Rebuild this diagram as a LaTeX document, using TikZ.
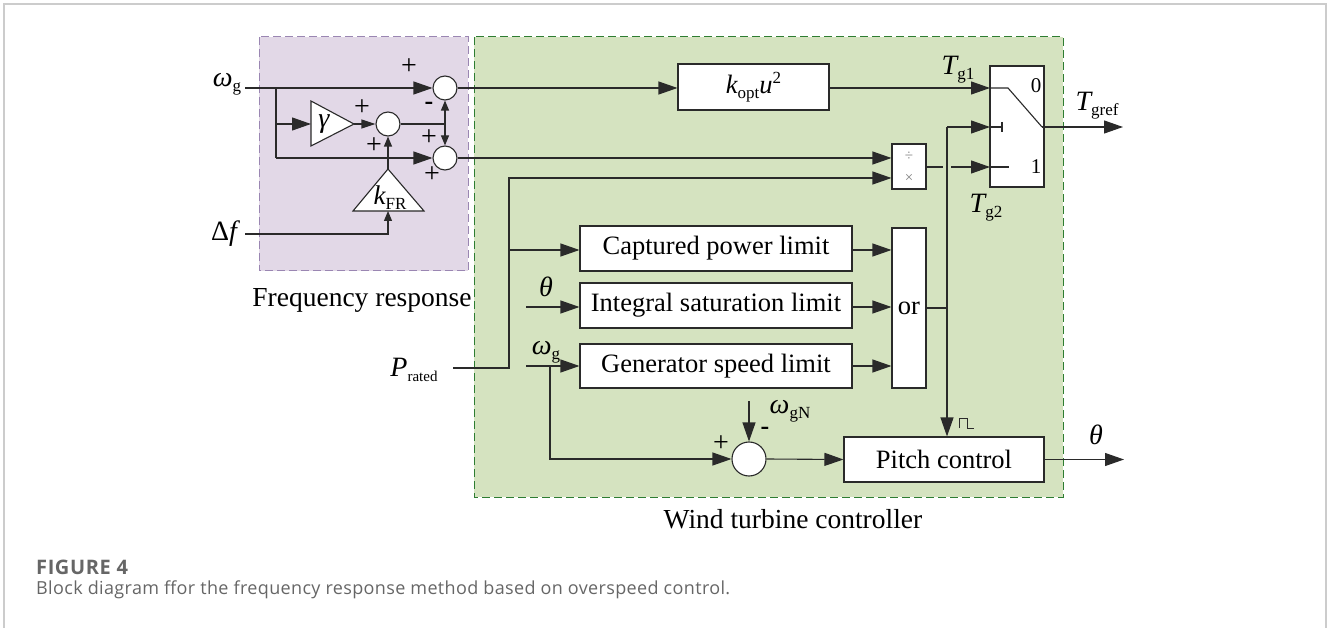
\documentclass[tikz,border=0pt]{standalone}
\usepackage{fontspec}
\setmainfont{Liberation Serif}
\newfontfamily\capfont{Open Sans}
\usetikzlibrary{arrows.meta,calc}
\definecolor{purpfill}{HTML}{E2D8E7}
\definecolor{purpedge}{HTML}{9A86B2}
\definecolor{grnfill}{HTML}{D5E3C0}
\definecolor{grnedge}{HTML}{2E7D32}
\definecolor{ln}{HTML}{2A2A2A}
\definecolor{framec}{HTML}{CCCCCC}
\definecolor{capc}{HTML}{666666}
\newcommand\fs[1]{\fontsize{#1}{#1}\selectfont}
\newcommand\sbs[1]{\raisebox{-5pt}{\fs{17}\upshape #1}}
\newcommand\sps[1]{\raisebox{10pt}{\fs{17}\upshape #1}}
\tikzset{
  lines/.style={draw=ln, line width=1.1pt},
  arr/.style={lines, -{Triangle[length=19pt,width=13pt]}},
  marr/.style={lines, -{Triangle[length=14pt,width=9pt]}},
  sarr/.style={lines, -{Triangle[length=10pt,width=8pt]}},
  blk/.style={draw=ln, line width=1.1pt, fill=white, rectangle, inner sep=0pt, font=\fs{26.5}},
  sumc/.style={draw=ln, line width=1.1pt, fill=white, circle, inner sep=0pt, minimum size=24pt},
  lbl/.style={inner sep=0pt, font=\fs{28}},
  sgn/.style={inner sep=0pt, font=\fs{28}},
  grp/.style={inner sep=0pt, font=\fs{27.5}}
}
\begin{document}
\begin{tikzpicture}[x=1pt,y=-1pt]
\useasboundingbox (0,0) rectangle (1328,628);
% frame
\draw[framec, line width=1.5pt] (4,628) -- (4,4) -- (1326,4) -- (1326,628);
% group boxes
\draw[fill=purpfill, draw=purpedge, line width=1pt, dash pattern=on 8pt off 4pt] (259,37) rectangle (468,271);
\draw[fill=grnfill, draw=grnedge, line width=1pt, dash pattern=on 8pt off 4pt] (474,37) rectangle (1063,497);
\node[grp] (lfr) at (362,300) {Frequency response};
\node[grp] (lwt) at (793,519) {Wind turbine controller};

% ---------- frequency response part
\node[lbl] (lwg) at (227,84) {\itshape ω\sbs{g}};
\node[lbl] (ldf) at (224,234) {Δ\itshape f};
\coordinate (wgin) at (245,88);
\coordinate (dfin) at (245,234);
\coordinate (br1) at (276,88);
\coordinate (br2) at (276,124);
\coordinate (br3) at (276,158);
\node[sumc] (s1) at (445,88) {};
\node[sumc] (s2) at (388,124) {};
\node[sumc] (s3) at (445,158) {};
% gamma triangle
\draw[lines, fill=white] (311,101) -- (354,124) -- (311,146) -- cycle;
\coordinate (gamin) at (311,124);
\coordinate (gamtip) at (354,124);
\node[lbl] (gam) at (324,124) {\itshape γ};
% kFR triangle
\draw[lines, fill=white] (353,211) -- (388,169) -- (424,211) -- cycle;
\coordinate (kfrtop) at (388,169);
\coordinate (kfrbot) at (388,211);
\node[inner sep=0pt, font=\fs{27}] (kfr) at (390,198) {\itshape k\sbs{FR}};
\coordinate (jn) at (445,124);

\draw[arr] (wgin) -- (s1.west);
\draw[lines] (br1) -- (br3);
\draw[arr] (br2) -- (gamin);
\draw[arr] (br3) -- (s3.west);
\draw[marr] (gamtip) -- (s2.west);
\draw[sarr] (kfrtop) -- (s2.south);
\draw[sarr] (dfin) -| (kfrbot);
\draw[lines] (s2.east) -- (jn);
\draw[sarr] (jn) -- (s1.south);
\draw[sarr] (jn) -- (s3.north);
% signs
\node[sgn] (p1) at (409,67) {+};
\node[sgn, font=\fs{26}\bfseries] (m1) at (429,106) {-};
\node[sgn] (p2) at (362,108) {+};
\node[sgn] (p3) at (374,146) {+};
\node[sgn] (p4) at (429,138) {+};
\node[sgn] (p5) at (432,175) {+};

% ---------- wind turbine controller
\node[blk, minimum width=151pt, minimum height=46pt] (kopt) at (753.5,87) {\itshape k\sbs{opt}u\sps{2}};
\node[blk, minimum width=34pt, minimum height=45pt] (div) at (909,166.5) {};
\node[inner sep=0pt, font=\fs{15}, text=gray] (dv) at (909,156) {÷};
\node[inner sep=0pt, font=\fs{15}, text=gray] (mu) at (909,178) {×};
\node[blk, minimum width=54pt, minimum height=121pt] (sw) at (1017,126.5) {};
\node[inner sep=0pt, font=\fs{21}] (s0) at (1036,86) {0};
\node[inner sep=0pt, font=\fs{21}] (s1l) at (1036,167) {1};

\node[blk, minimum width=272pt, minimum height=45pt] (cap) at (716,248.5) {Captured power limit};
\node[blk, minimum width=272pt, minimum height=45pt] (int) at (716,305.5) {Integral saturation limit};
\node[blk, minimum width=272pt, minimum height=44pt] (gen) at (716,366) {Generator speed limit};
\node[blk, minimum width=34pt, minimum height=160pt] (or) at (909,308) {or};
\node[blk, minimum width=200pt, minimum height=45pt] (pitch) at (944,459.5) {Pitch control};
\node[sumc, minimum size=34pt] (s4) at (749,459) {};

% labels
\node[lbl] (ltg1) at (958,70) {\itshape T\sbs{g1}};
\node[lbl] (ltg2) at (986,208) {\itshape T\sbs{g2}};
\node[lbl] (ltgr) at (1097,106) {\itshape T\sbs{gref}};
\node[lbl] (lpr) at (414,370) {\itshape P\raisebox{-5pt}{\fs{15}\upshape rated}};
\node[lbl] (lth1) at (546,287) {\itshape θ};
\node[lbl] (lwg2) at (546,352) {\itshape ω\sbs{g}};
\node[lbl] (lwgn) at (790,411) {\itshape ω\sbs{gN}};
\node[lbl] (lth2) at (1096,435) {\itshape θ};
\node[sgn] (p6) at (721,444) {+};
\node[sgn, font=\fs{26}\bfseries] (m2) at (765,431) {-};

% coordinates
\coordinate (sw0) at (990,88);
\coordinate (swc) at (990,127);
\coordinate (sw1) at (990,167);
\coordinate (swk) at (1008,88);
\coordinate (swd) at (1042,127);
\coordinate (tgout) at (1123,127);
\coordinate (vtop) at (947,127);
\coordinate (vor) at (947,308);
\coordinate (gapl) at (943,167);
\coordinate (gapr) at (951,167);
\coordinate (prin) at (453,368);
\coordinate (prtop) at (509,178);
\coordinate (prcap) at (509,250);
\coordinate (thin) at (526,307);
\coordinate (wgin2) at (526,366);
\coordinate (wgbr) at (550,366);
\coordinate (wgnin) at (749,401);
\coordinate (thout) at (1124,459.5);

% connectors
\draw[arr] (s1.east) -- (kopt.west |- s1.east);
\draw[arr] (kopt.east |- sw0) -- (sw0);
\draw[arr] (s3.east) -- (div.west |- s3.east);
\draw[arr] (prin) -| (prtop) -- (div.west |- prtop);
\draw[arr] (prcap) -- (cap.west |- prcap);
\draw[arr] (thin) -- (int.west |- thin);
\draw[arr] (wgin2) -- (gen.west |- wgin2);
\draw[arr] (cap.east |- prcap) -- (or.west |- prcap);
\draw[arr] (int.east |- thin) -- (or.west |- thin);
\draw[arr] (gen.east |- wgin2) -- (or.west |- wgin2);
\draw[lines] (or.east |- vor) -- (vor);
\draw[arr] (vtop) -- (swc);
\draw[arr] (vtop) -- (vtop |- pitch.north);
\draw[lines] (div.east |- gapl) -- (gapl);
\draw[arr] (gapr) -- (sw1);
\draw[lines] (sw1) -- (1009,167);
\draw[lines] (sw0) -- (swk) -- (swd);
\draw[arr] (swd) -- (tgout);
\draw[lines] (swc) -- (1002,127);
\draw[lines] (1002,122) -- (1002,132);
\draw[arr] (wgbr) |- (s4.west);
\draw[arr] (wgnin) -- (s4.north);
\draw[arr] (s4.east) -- (pitch.west);
\draw[arr] (pitch.east) -- (thout);
% pulse symbol
\draw[lines, line width=0.9pt] (959,428) -- (959,418) -- (967,418) -- (967,428) -- (974,428);

% caption
\node[anchor=base west, inner sep=0pt, text=capc, font=\capfont\fs{20}\bfseries\addfontfeature{LetterSpace=3}] (cap4) at (36,574) {FIGURE 4};
\node[anchor=base west, inner sep=0pt, text=capc, font=\capfont\fs{18}\addfontfeature{LetterSpace=2}] (capt) at (36,594) {Block diagram ffor the frequency response method based on overspeed control.};
\end{tikzpicture}
\end{document}
